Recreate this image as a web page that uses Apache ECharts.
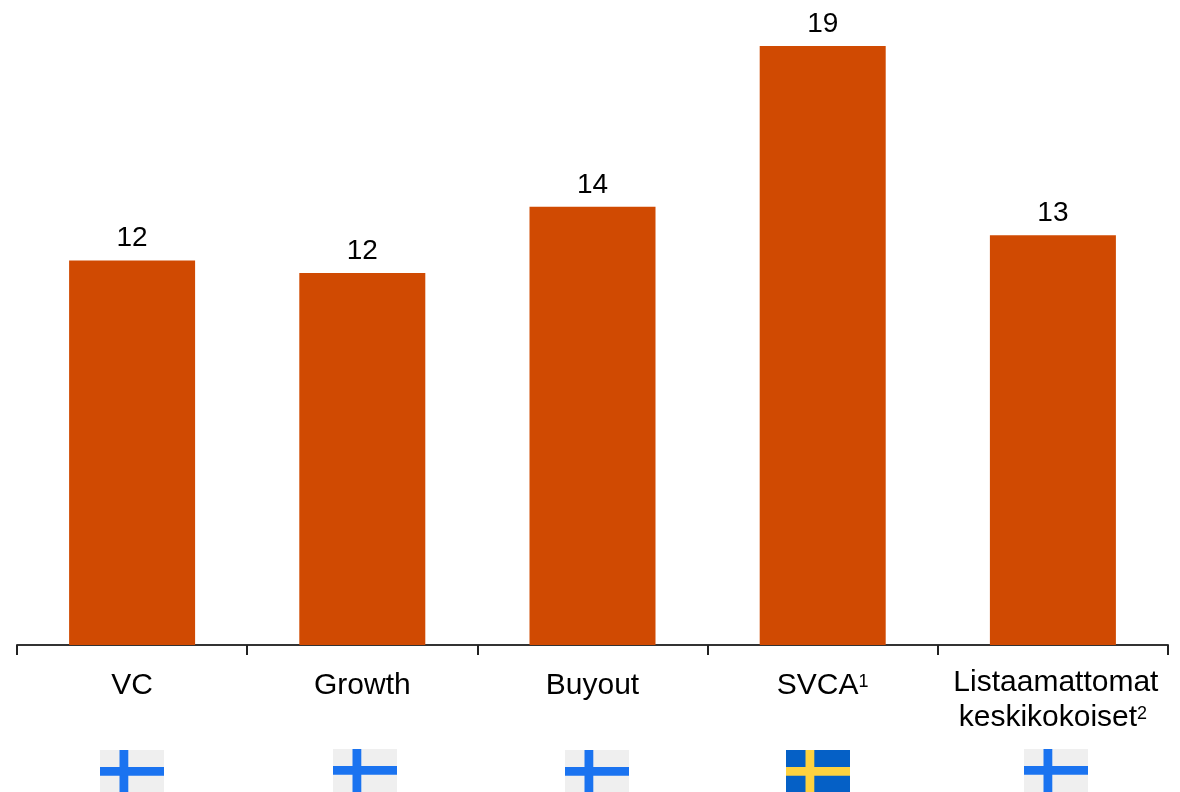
<!DOCTYPE html>
<html>
<head>
<meta charset="utf-8">
<style>
  html, body { margin: 0; padding: 0; background: #fff; }
  #chart { width: 1180px; height: 792px; }
</style>
<script src="https://cdn.jsdelivr.net/npm/echarts@6/dist/echarts.min.js"></script>
</head>
<body>
<div id="chart"></div>
<script>
// values, the labels show them rounded
const categories = ['VC', 'Growth', 'Buyout', 'SVCA', 'Listaamattomat\nkeskikokoiset']
const footnotes = ['', '', '', '1', '2']
const values = [12.2, 11.8, 13.9, 19, 13]
const countries = ['fi', 'fi', 'fi', 'se', 'fi']

const FONT = '"Liberation Sans", Arial, sans-serif'
const flagLeft = [100, 333, 565, 786, 1024]
const flagTop = [750, 749, 750, 750, 749]
const flagColors = {
  fi: { field: '#efefef', cross: '#1a73f0' },
  se: { field: '#0560c6', cross: '#ffd23f' }
}

function flag(country, x, y) {
  const c = flagColors[country]
  return [
    { type: 'rect', shape: { x: x, y: y, width: 64, height: 43 }, style: { fill: c.field } },
    { type: 'rect', shape: { x: x + 19.5, y: y, width: 8.8, height: 43 }, style: { fill: c.cross } },
    { type: 'rect', shape: { x: x, y: y + 17, width: 64, height: 8.8 }, style: { fill: c.cross } }
  ]
}

const chart = echarts.init(document.getElementById('chart'))
chart.setOption({
  animation: false,
  grid: { left: 17, right: 12, top: 14.5, bottom: 147 },
  xAxis: {
    type: 'category',
    data: categories,
    axisLine: { lineStyle: { color: '#333', width: 2 } },
    axisTick: { show: true, length: 10, lineStyle: { color: '#222', width: 2 } },
    axisLabel: {
      interval: 0,
      margin: 20,
      verticalAlign: 'top',
      formatter: function (name, i) {
        const lines = name.split('\n')
        if (lines.length > 1) {
          // first line of the two-line label sits a bit right of centre
          return '{first|' + lines[0] + '}\n{t|' + lines[1] + '}{s|' + footnotes[i] + '}'
        }
        // one-line labels sit 3px lower than the first line of the two-line one
        return '{one|' + name + '}' + (footnotes[i] ? '{sOne|' + footnotes[i] + '}' : '')
      },
      rich: {
        first: { fontFamily: FONT, fontSize: 30, color: '#000', lineHeight: 35, padding: [0, 0, 0, 6] },
        t: { fontFamily: FONT, fontSize: 30, color: '#000', lineHeight: 35 },
        one: { fontFamily: FONT, fontSize: 30, color: '#000', lineHeight: 41 },
        s: { fontFamily: FONT, fontSize: 18, color: '#000', lineHeight: 35, verticalAlign: 'top', padding: [5, 0, 0, 0] },
        sOne: { fontFamily: FONT, fontSize: 18, color: '#000', lineHeight: 35, verticalAlign: 'top', padding: [8, 0, 0, 0] }
      }
    }
  },
  yAxis: { type: 'value', min: 0, max: 20, show: false, splitLine: { show: false } },
  series: [{
    type: 'bar',
    data: values,
    barWidth: 126,
    itemStyle: { color: '#d04a02' },
    label: {
      show: true,
      position: 'top',
      distance: 8,
      fontFamily: FONT,
      fontSize: 28,
      color: '#000',
      formatter: p => Math.round(p.value)
    }
  }],
  graphic: countries.flatMap((c, i) => flag(c, flagLeft[i], flagTop[i]))
})
</script>
</body>
</html>
